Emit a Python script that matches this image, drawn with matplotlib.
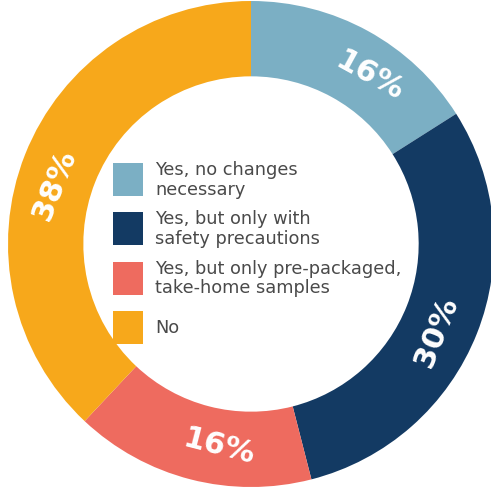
"""Donut chart: sampling at events"""

import numpy as np
import matplotlib.pyplot as plt
from matplotlib.patches import Rectangle

categories = ['Yes, no changes\nnecessary',
              'Yes, but only with\nsafety precautions',
              'Yes, but only pre-packaged,\ntake-home samples',
              'No']
shares = [16, 30, 16, 38]
colors = ['#7BAFC4', '#133A63', '#EE6B5F', '#F7A81B']

W, H = 491, 487
CX, CY, R = 251, 244, 243   # centre and outer radius in pixels
RING = 0.31
# hand nudges (degrees) for the percentage labels along the ring
label_nudge = [-6.5, -3.8, 5.4, 4.8]

fig = plt.figure(figsize=(W / 100, H / 100), dpi=100)
ax = fig.add_axes([0, 0, 1, 1])

wedges, _ = ax.pie(shares, colors=colors, startangle=90, counterclock=False,
                   radius=1, wedgeprops=dict(width=RING, edgecolor='none'))
# pixel-true limits, so units are equal on both axes
ax.set_aspect('auto')
ax.set_xlim(-CX / R, (W - CX) / R)
ax.set_ylim(-(H - CY) / R, CY / R)
ax.axis('off')

# percentage labels follow the ring
total = sum(shares)
start = 90.0
label_r = 1 - RING / 2
for value, nudge in zip(shares, label_nudge):
    sweep = value / total * 360
    mid = start - sweep / 2
    start -= sweep
    rot = mid - 90 if np.sin(np.deg2rad(mid)) > 0 else mid + 90
    rot = (rot + 90) % 180 - 90
    rad = np.deg2rad(mid + nudge)
    ax.text(label_r * np.cos(rad), label_r * np.sin(rad), f'{value}%',
            rotation=rot, rotation_mode='anchor', ha='center', va='center',
            color='white', fontsize=22, fontweight='bold', family='DejaVu Sans')

# key in the hole, laid out in pixels
key = fig.add_axes([0, 0, 1, 1])
key.set_xlim(0, W)
key.set_ylim(H, 0)
key.axis('off')
for i, (label, c) in enumerate(zip(categories, colors)):
    top = 163 + 49.3 * i
    key.add_patch(Rectangle((113, top), 30, 33, facecolor=c, edgecolor='none'))
    key.text(155, top + 17, label, va='center', ha='left', color='#4A4A4A',
             fontsize=12.8, family='DejaVu Sans', linespacing=1.12)

fig.savefig('out.png', dpi=100)
